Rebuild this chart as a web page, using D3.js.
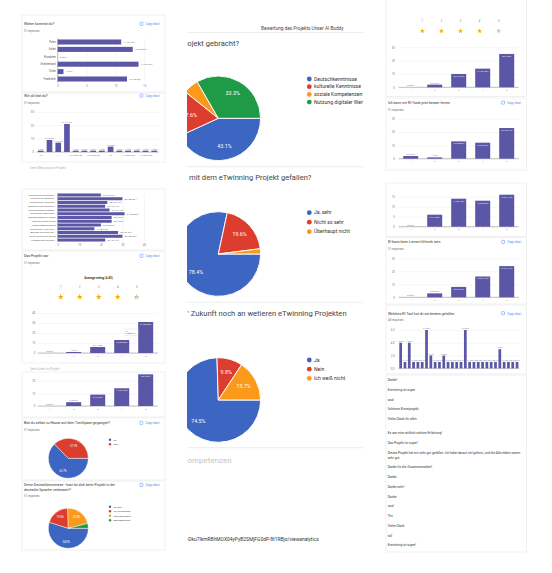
<!DOCTYPE html>
<html>
<head>
<meta charset="utf-8">
<script src="https://cdn.jsdelivr.net/npm/d3@7"></script>
<style>
  body { margin: 0; background: #fff; }
  svg { display: block; font-family: Roboto, "Noto Sans", Arial, sans-serif; }
</style>
</head>
<body>
<svg id="bild" width="552" height="573"></svg>
<script>
// ---- Daten ----
var herkunftLaender = ["Polen", "Italien", "Rumänien", "Griechenland", "Türkei", "Frankreich"];
var herkunftWerte = [11, 13, 0, 14, 1, 12];

var alterKategorien = ["10", "11 Jahre", "11", "12", "12 Jahre alt", "13 Jahre", "13 Jahre alt", "14 Jahre",
                       "13", "15 Jahre", "11 Jahre alt", "zw. 12", "14 Jahre alt", "15"];
var alterWerte = [1, 9, 7, 21, 1, 1, 1, 1, 4, 1, 1, 1, 1, 1];

var lernKategorien = ["Verbesserung der Deutschkenntnisse", "Freude an der Arbeit mit KI-Tools",
  "Kennenlernen neuer Digitaltools", "Austausch mit anderen Schülern", "Lustige Gemeinschaftsaktivitäten",
  "Mit eigenen Ideen kreativ sein", "Zusammenarbeit in Teams", "Motivation zum Lernen",
  "Wortschatzerweiterung", "Wissen über Kultur und Traditionen", "Arbeiten mit Tools und Apps",
  "Neue Freunde aus Europa", "Kontakte mit Gleichaltrigen"];
var lernWerte = [20, 30, 23, 22, 24, 31, 25, 25, 20, 17, 28, 30, 22];

var sterne = ["1", "2", "3", "4", "5"];
var projektWerte = [0, 1, 6, 13, 31];
var arbeitWerte = [0, 3, 9, 14, 25];

var twinspaceKategorien = ["Ja", "Nein"];
var twinspaceWerte = [62.7, 37.3];

var deutschKategorien = ["Ja, sehr", "Ja, ein bisschen", "nicht besonders", "überhaupt nicht"];
var deutschWerte = [54.9, 19.6, 21.6, 3.9];

var gebrachtKategorien = ["Deutschkenntnisse", "kulturelle Kenntnisse", "soziale Kompetenzen", "Nutzung digitaler Werkzeuge"];
var gebrachtWerte = [43.1, 17.6, 5.9, 33.3];

var gefallenKategorien = ["Ja, sehr", "Nicht so sehr", "Überhaupt nicht"];
var gefallenWerte = [78.4, 19.6, 2.0];

var zukunftKategorien = ["Ja", "Nein", "Ich weiß nicht"];
var zukunftWerte = [74.5, 9.8, 15.7];

var bewertungWerte = [0, 2, 10, 14, 25];
var besserLernenWerte = [2, 1, 13, 12, 23];
var spassWerte = [0, 6, 14, 13, 16];
var hilfreichWerte = [0, 3, 8, 16, 24];

var kiToolWerte = [4, 1, 4, 1, 1, 1, 6, 2, 1, 1, 2, 1, 1, 1, 1, 6, 1, 1, 1, 1, 1, 1, 1, 3, 1, 1, 1, 1];

var antworten = ["Danke!", "Eventwing ist super", "cool", "Schönes Kunstprojekt", "Vielen Dank für alles", "",
  "Es war eine wirklich schöne Erfahrung!", "Das Projekt ist super!",
  "Dieses Projekt hat mir sehr gut gefallen. Ich habe darauf viel gelernt, und die Aktivitäten waren sehr gut.",
  "Danke für die Zusammenarbeit!", "Danke", "Danke sehr!", "Danke", "cool", "Thx", "Vielen Dank", "toll",
  "Eventwing ist super!"];

// ---- Farben ----
var farben = ["#3d66c3", "#dc3d2e", "#fb9a1a", "#1f9a46"];
var lila = "#5b56a6";

var svg = d3.select("#bild");
var defs = svg.append("defs");
defs.append("clipPath").attr("id", "mitte")
  .append("rect").attr("x", 187).attr("y", 0).attr("width", 176).attr("height", 573);

function txt(p, x, y, s, size, fill, anchor, weight) {
  return p.append("text").attr("x", x).attr("y", y).attr("font-size", size)
    .attr("fill", fill || "#222").attr("text-anchor", anchor || "start")
    .attr("font-weight", weight || "normal").text(s);
}

function prozent(d, total) {
  return +(d / total * 100).toFixed(1);
}

function karte(x, y, w, h) {
  svg.append("rect").attr("x", x).attr("y", y).attr("width", w).attr("height", h)
    .attr("fill", "#fff").attr("stroke", "#e2e2e2").attr("stroke-width", 0.5);
}

function kopf(x, y, zeilen, antw, rechts) {
  zeilen.forEach(function (z, i) { txt(svg, x, y + i * 4.5, z, 3.5, "#333"); });
  if (antw) txt(svg, x, y + (zeilen.length - 1) * 4.5 + 6.6, antw, 2.6, "#777");
  var k = svg.append("g").attr("transform", "translate(" + (rechts - 25) + "," + y + ")");
  k.append("rect").attr("x", 0).attr("y", -2.9).attr("width", 2.8).attr("height", 3.2).attr("rx", 0.6)
    .attr("fill", "none").attr("stroke", "#4285f4").attr("stroke-width", 0.5);
  txt(k, 5.5, 0, "Copy chart", 2.9, "#4285f4");
}

// Säulendiagramm
function saeulen(o) {
  var g = svg.append("g");
  var x = d3.scaleBand().domain(o.kat).range([o.x0, o.x1]).paddingInner(o.pad).paddingOuter(o.pad / 2);
  var y = d3.scaleLinear().domain([0, o.max]).range([o.unten, o.oben]);
  var achse = g.append("g").attr("transform", "translate(" + o.x0 + ",0)")
    .call(d3.axisLeft(y).tickValues(o.ticks).tickSize(-(o.x1 - o.x0)).tickPadding(o.tp || 2.5));
  achse.select(".domain").remove();
  achse.selectAll("line").attr("stroke", "#e8e8e8").attr("stroke-width", 0.4);
  achse.selectAll("text").attr("font-size", 2.7).attr("fill", "#777").attr("font-family", "Roboto");
  g.append("line").attr("x1", o.x0).attr("x2", o.x1).attr("y1", o.unten).attr("y2", o.unten)
    .attr("stroke", "#666").attr("stroke-width", 0.4);
  g.selectAll(".saeule").data(o.werte).enter().append("rect")
    .attr("x", function (d, i) { return x(o.kat[i]); })
    .attr("width", x.bandwidth())
    .attr("y", function (d) { return y(d); })
    .attr("height", function (d) { return o.unten - y(d); })
    .attr("fill", lila);
  if (o.xLabels !== false) {
    var xa = g.append("g").attr("transform", "translate(0," + o.unten + ")")
      .call(d3.axisBottom(x).tickSize(0).tickPadding(1.8)
        .tickValues(o.xTicks || o.kat));
    xa.select(".domain").remove();
    xa.selectAll("text").attr("font-size", 2.5).attr("fill", "#777").attr("font-family", "Roboto");
  }
  var total = o.total || d3.sum(o.werte);
  var innen = function (d) { return o.innen !== false && (o.unten - y(d)) > 6; };
  g.selectAll(".wert").data(o.werte).enter().append("text")
    .attr("x", function (d, i) { return x(o.kat[i]) + x.bandwidth() / 2; })
    .attr("y", function (d) { return innen(d) ? y(d) + 2.9 : y(d) - 1; })
    .attr("text-anchor", "middle").attr("font-size", o.fs || 2.4)
    .attr("fill", function (d) { return innen(d) ? "#fff" : "#666"; })
    .text(function (d) { return d + " (" + prozent(d, total) + "%)"; });
  return { x: x, y: y, g: g };
}

// Balkendiagramm (waagerecht)
function balken(o) {
  var g = svg.append("g");
  var y = d3.scaleBand().domain(o.kat).range([o.oben, o.unten]).paddingInner(o.pad).paddingOuter(o.pad / 2);
  var x = d3.scaleLinear().domain([0, o.max]).range([o.x0, o.x1]);
  var achse = g.append("g").attr("transform", "translate(0," + o.unten + ")")
    .call(d3.axisBottom(x).tickValues(o.ticks).tickSize(-(o.unten - o.oben)).tickPadding(2));
  achse.select(".domain").remove();
  achse.selectAll("line").attr("stroke", "#e8e8e8").attr("stroke-width", 0.4);
  achse.selectAll("text").attr("font-size", 2.6).attr("fill", "#777").attr("font-family", "Roboto");
  g.append("line").attr("x1", o.x0).attr("x2", o.x0).attr("y1", o.oben).attr("y2", o.unten)
    .attr("stroke", "#666").attr("stroke-width", 0.4);
  g.selectAll(".balken").data(o.werte).enter().append("rect")
    .attr("y", function (d, i) { return y(o.kat[i]); })
    .attr("height", y.bandwidth())
    .attr("x", o.x0)
    .attr("width", function (d) { return x(d) - o.x0; })
    .attr("fill", lila);
  var ya = g.append("g").attr("transform", "translate(" + o.x0 + ",0)")
    .call(d3.axisLeft(y).tickSize(0).tickPadding(2)
      .tickFormat(function (d) { return d.length > 24 ? d.slice(0, 23) + "…" : d; }));
  ya.select(".domain").remove();
  ya.selectAll("text").attr("font-size", o.fk || 2.6).attr("fill", "#555").attr("font-family", "Roboto");
  var total = o.total;
  g.selectAll(".wert").data(o.werte).enter().append("text")
    .attr("x", function (d) { return x(d) + 2; })
    .attr("y", function (d, i) { return y(o.kat[i]) + y.bandwidth() / 2; })
    .attr("dy", "0.35em").attr("font-size", 2.5).attr("fill", "#666")
    .text(function (d) { return d + " (" + prozent(d, total) + "%)"; });
}

// Kreisdiagramm
function torte(o) {
  var pie = d3.pie().sort(null).startAngle(Math.PI / 2).endAngle(Math.PI * 2.5);
  var arc = d3.arc().innerRadius(0).outerRadius(o.r);
  var lab = d3.arc().innerRadius(o.r * 0.68).outerRadius(o.r * 0.68);
  var g = o.parent.append("g").attr("transform", "translate(" + o.cx + "," + o.cy + ")");
  var teile = pie(o.werte);
  g.selectAll("path").data(teile).enter().append("path")
    .attr("d", arc).attr("fill", function (d, i) { return farben[i]; })
    .attr("stroke", "#fff").attr("stroke-width", o.r / 45);
  g.selectAll("text").data(teile.filter(function (d) { return d.data >= 7; })).enter().append("text")
    .attr("transform", function (d) { return "translate(" + lab.centroid(d) + ")"; })
    .attr("text-anchor", "middle").attr("dy", "0.35em")
    .attr("font-size", o.fs).attr("fill", "#fff")
    .text(function (d) { return d.data.toFixed(1) + "%"; });
  var leg = o.parent.append("g");
  o.kat.forEach(function (k, i) {
    var yy = o.ly + i * o.ldy;
    leg.append("circle").attr("cx", o.lx).attr("cy", yy).attr("r", o.lr).attr("fill", farben[i]);
    txt(leg, o.lx + o.lr + 2.2, yy, k, o.lfs, "#333").attr("dy", "0.35em");
  });
}

// Sternbewertung
function sternReihe(p, x0, dx, yZahl, yStern, werte, groesse, fs, id) {
  var avg = d3.sum(werte, function (d, i) { return d * (i + 1); }) / d3.sum(werte);
  var sx = d3.scalePoint().domain(sterne).range([x0, x0 + dx * (sterne.length - 1)]);
  var stern = d3.symbol().type(d3.symbolStar).size(groesse);
  sterne.forEach(function (s, i) {
    var f = Math.max(0, Math.min(1, avg - i));
    var gr = defs.append("linearGradient").attr("id", id + i);
    gr.append("stop").attr("offset", f).attr("stop-color", "#f9ab00");
    gr.append("stop").attr("offset", f).attr("stop-color", "#c4c4c4");
    txt(p, sx(s), yZahl, s, fs, "#777", "middle");
    p.append("path").attr("d", stern).attr("transform", "translate(" + sx(s) + "," + yStern + ")")
      .attr("fill", "url(#" + id + i + ")");
  });
  return avg;
}

// ---------------- linke Spalte ----------------
karte(22, 15, 143, 77);
karte(22, 93, 143, 69);
karte(22, 189, 143, 61);
karte(22, 251, 143, 112);
karte(22, 372, 143, 45);
karte(22, 418, 143, 62);
karte(22, 481, 143, 69);

kopf(24, 25.2, ["Woher kommst du?"], "51 responses", 165);
balken({ kat: herkunftLaender, werte: herkunftWerte, total: 51, x0: 57.7, x1: 144.3, oben: 38.3, unten: 82.7,
  pad: 0.32, max: 15, ticks: [0, 5, 10, 15] });

kopf(24, 97, ["Wie alt bist du?"], "51 responses", 165);
saeulen({ kat: alterKategorien, werte: alterWerte, total: 51, x0: 36.4, x1: 158.6, oben: 112, unten: 152,
  max: 30, ticks: [0, 10, 20, 30], pad: 0.35, innen: false, fs: 2.2,
  xTicks: alterKategorien.filter(function (d, i) { return i % 2 === 0; }) });
txt(svg, 30, 169, "Seite Meinung zum Projekt", 3, "#b5b5b5");

balken({ kat: lernKategorien, werte: lernWerte, total: 51, x0: 57.7, x1: 144, oben: 193.1, unten: 241.9,
  pad: 0.2, max: 40, ticks: [0, 10, 20, 30, 40], fk: 2.3 });

kopf(24, 257.2, ["Das Projekt war"], "51 responses", 165);
var avgLinks = sternReihe(svg, 60.7, 19, 288, 297, projektWerte, 11, 2.7, "sl");
txt(svg, 98.5, 279, "Average rating (" + avgLinks.toFixed(2) + ")", 3, "#333", "middle", "bold");
var projekt = saeulen({ kat: sterne, werte: projektWerte, total: 51, x0: 37.7, x1: 157.7, oben: 313, unten: 353,
  max: 40, ticks: [0, 10, 20, 30, 40], pad: 0.375 });
// Tooltip über Säule 4
var tipX = projekt.x("4") + projekt.x.bandwidth() / 2 + 3.3, tipY = projekt.y(projektWerte[3]) - 11;
projekt.g.append("rect").attr("x", tipX).attr("y", tipY).attr("width", 13).attr("height", 6.5)
  .attr("fill", "#fff").attr("stroke", "#ccc").attr("stroke-width", 0.3);
txt(projekt.g, tipX + 1.3, tipY + 2.6, "4", 2.1, "#333", "start", "bold");
txt(projekt.g, tipX + 1.3, tipY + 5.3, "Count: " + projektWerte[3], 2.1, "#333");
txt(svg, 30, 370, "Seite Arbeit im Projekt", 3, "#b5b5b5");

saeulen({ kat: sterne, werte: arbeitWerte, total: 51, x0: 37.7, x1: 157.7, oben: 368, unten: 406,
  max: 30, ticks: [0, 10, 20], pad: 0.375 });

kopf(24, 424.2, ["Bist du selbst zu Hause auf dem TwinSpace gegangen?"], "51 responses", 165);
torte({ parent: svg, cx: 68.3, cy: 458.3, r: 20, werte: twinspaceWerte, kat: twinspaceKategorien, fs: 2.6,
  lx: 110, ly: 439.7, ldy: 4.5, lr: 1.2, lfs: 2.4 });

kopf(24, 486.2, ["Deine Deutschkenntnisse - hast du dich beim Projekt in der", "deutsche Sprache verbessert?"],
  "51 responses", 165);
torte({ parent: svg, cx: 68.3, cy: 528.3, r: 20, werte: deutschWerte, kat: deutschKategorien, fs: 2.6,
  lx: 110, ly: 506.7, ldy: 4.5, lr: 1.2, lfs: 2.4 });

// ---------------- mittlere Spalte (angeschnittener Ausschnitt) ----------------
var mitte = svg.append("g").attr("clip-path", "url(#mitte)");
txt(mitte, 261, 29.5, "Bewertung des Projekts Unser AI Buddy", 4.7, "#444");
[32.5, 166.7, 302.3, 447.7].forEach(function (yy) {
  mitte.append("line").attr("x1", 187).attr("x2", 363).attr("y1", yy).attr("y2", yy)
    .attr("stroke", "#e0e0e0").attr("stroke-width", 0.6);
});
txt(mitte, 187.3, 45.5, "ojekt gebracht?", 7.6, "#444");
torte({ parent: mitte, cx: 218.3, cy: 118.3, r: 42.3, werte: gebrachtWerte, kat: gebrachtKategorien, fs: 5.3,
  lx: 309.3, ly: 79, ldy: 7.7, lr: 2.4, lfs: 5.1 });

txt(mitte, 189, 180, "mit dem eTwinning Projekt gefallen?", 7.6, "#444");
torte({ parent: mitte, cx: 218.3, cy: 254, r: 42.3, werte: gefallenWerte, kat: gefallenKategorien, fs: 5.3,
  lx: 309.3, ly: 212.7, ldy: 9.5, lr: 2.4, lfs: 5.1 });

txt(mitte, 187.5, 315.5, "' Zukunft noch an wetieren eTwinning Projekten", 7.6, "#444");
torte({ parent: mitte, cx: 218.3, cy: 400, r: 42.3, werte: zukunftWerte, kat: zukunftKategorien, fs: 5.3,
  lx: 309.3, ly: 360, ldy: 9.15, lr: 2.4, lfs: 5.1 });

txt(mitte, 187.5, 463, "ompetenzen", 8, "#c4c4c4");
txt(mitte, 187, 540.5, "-Dku7IkmRBhMOX04yPyB2SMjFG0dP-8t1RBjo/viewanalytics", 4.9, "#333");

// ---------------- rechte Spalte ----------------
karte(386, -2, 140.7, 98.7);
karte(386, 98, 140.7, 72);
karte(386, 183, 140.7, 53.7);
karte(386, 237.5, 140.7, 66.5);
karte(386, 305, 140.7, 69);
karte(386, 375, 140.7, 177);

sternReihe(svg, 422.3, 19.1, 22, 31, bewertungWerte, 9, 2.6, "sr");
saeulen({ kat: sterne, werte: bewertungWerte, total: 51, x0: 398.7, x1: 518.7, oben: 47.3, unten: 87.3,
  max: 30, ticks: [0, 10, 20, 30], pad: 0.375, tp: 4 });

kopf(388, 103.9, ["Ich kann mit KI-Tools jetzt besser lernen"], "51 responses", 526.7);
saeulen({ kat: sterne, werte: besserLernenWerte, total: 51, x0: 398.7, x1: 518.7, oben: 118.7, unten: 158.7,
  max: 30, ticks: [0, 10, 20, 30], pad: 0.375, tp: 4 });

saeulen({ kat: sterne, werte: spassWerte, total: 51, x0: 398.7, x1: 518.7, oben: 196.7, unten: 226.7,
  max: 15, ticks: [0, 5, 10, 15], pad: 0.375, tp: 4 });

kopf(388, 243.2, ["KI kann beim Lernen hilfreich sein"], "51 responses", 526.7);
saeulen({ kat: sterne, werte: hilfreichWerte, total: 51, x0: 398.7, x1: 518.7, oben: 258.3, unten: 297.3,
  max: 30, ticks: [0, 10, 20, 30], pad: 0.375, tp: 4 });

kopf(388, 314.5, ["Welches KI-Tool hat dir am besten gefallen"], "48 responses", 526.7);
saeulen({ kat: d3.range(kiToolWerte.length), werte: kiToolWerte, total: 48, x0: 398.5, x1: 519.2,
  oben: 330, unten: 368.3, max: 6, ticks: [0, 2, 4, 6], pad: 0.37, tp: 4, innen: false, fs: 1.7,
  xLabels: false });

// Textantworten
var ty = 381.2;
antworten.forEach(function (a) {
  if (a === "") { ty += 4.5; return; }
  var t = txt(svg, 387.7, ty, a, 3.2, "#333");
  if (t.node().getComputedTextLength() > 133) {
    var woerter = a.split(" "), zeile = [];
    t.text(null);
    var tspan = t.append("tspan").attr("x", 387.7);
    woerter.forEach(function (w) {
      zeile.push(w);
      tspan.text(zeile.join(" "));
      if (tspan.node().getComputedTextLength() > 133) {
        zeile.pop();
        tspan.text(zeile.join(" "));
        zeile = [w];
        tspan = t.append("tspan").attr("x", 387.7).attr("dy", 4.6).text(w);
        ty += 4.6;
      }
    });
  }
  ty += 9.75;
});
</script>
</body>
</html>
